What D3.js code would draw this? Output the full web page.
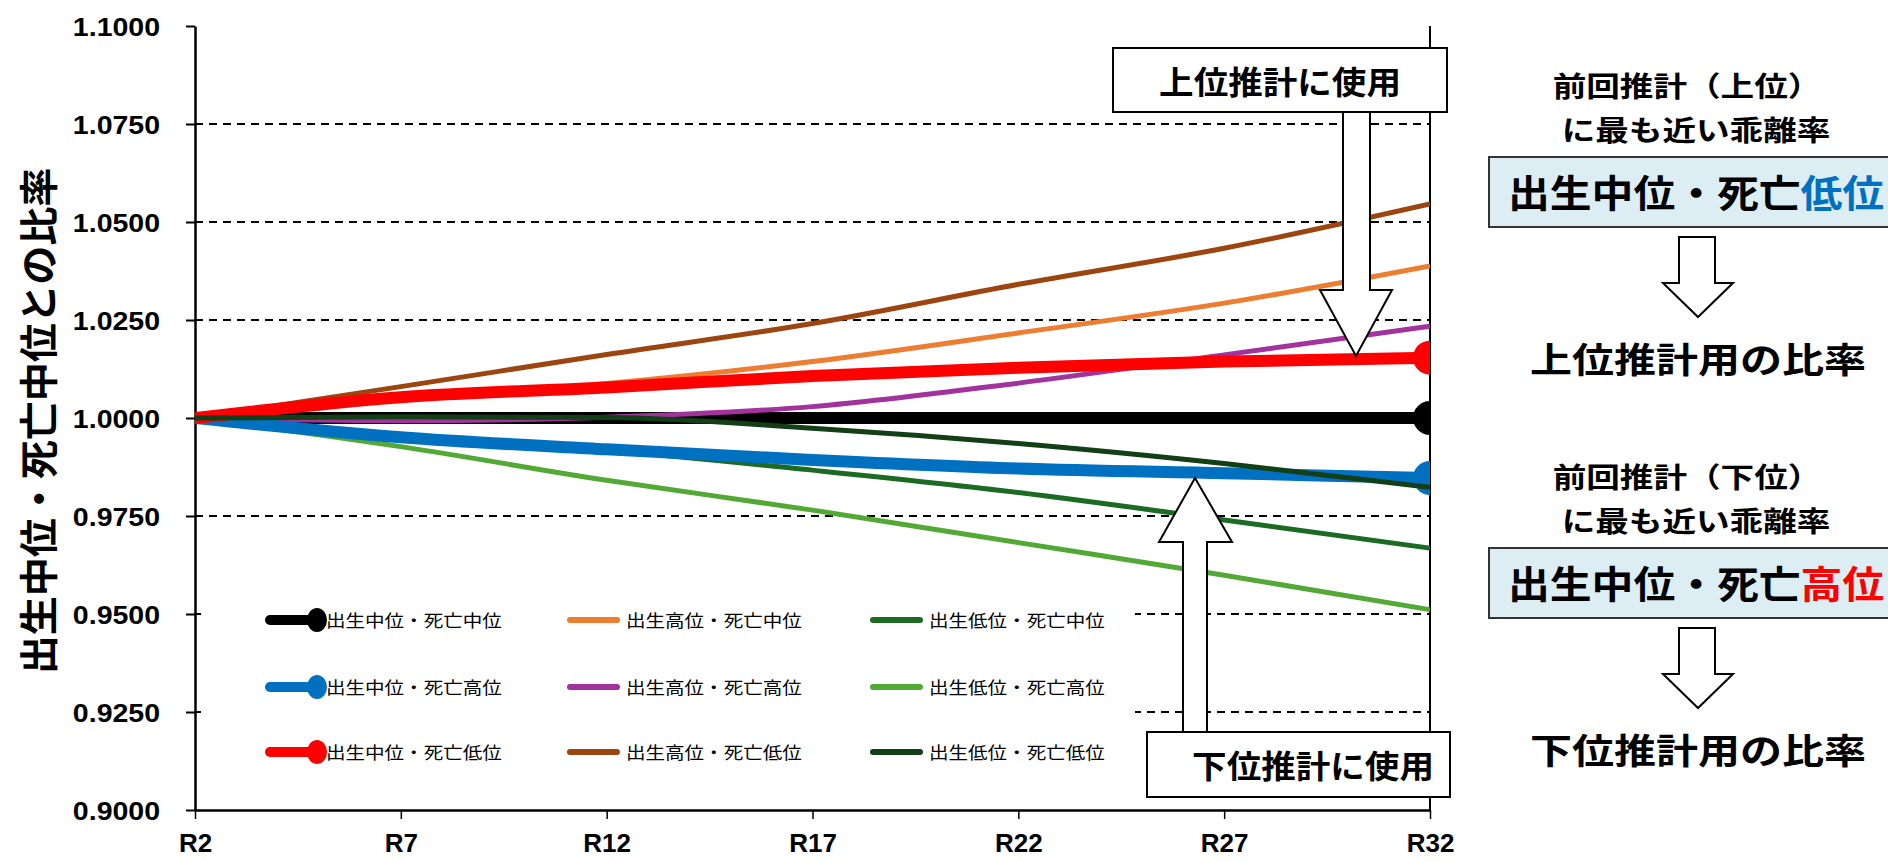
<!DOCTYPE html>
<html>
<head>
<meta charset="utf-8">
<script src="https://cdn.jsdelivr.net/npm/d3@7"></script>
<style>
  body { margin: 0; background: #fff; }
  svg { display: block; }
</style>
</head>
<body>
<div id="chart"></div>
<script>
// --- data ---
const years = [2, 7, 12, 17, 22, 27, 32];
const yTicks = [0.9, 0.925, 0.95, 0.975, 1.0, 1.025, 1.05, 1.075, 1.1];

const seriesNames = [
  "出生中位・死亡中位", "出生中位・死亡高位", "出生中位・死亡低位",
  "出生高位・死亡中位", "出生高位・死亡高位", "出生高位・死亡低位",
  "出生低位・死亡中位", "出生低位・死亡高位", "出生低位・死亡低位"
];
const midMid   = [1.0000, 1.0000, 1.0000, 1.0000, 1.0000, 1.0000, 1.0000];
const midHigh  = [1.0000, 0.9951, 0.9920, 0.9893, 0.9871, 0.9859, 0.9847];
const midLow   = [1.0000, 1.0053, 1.0078, 1.0107, 1.0128, 1.0144, 1.0154];
const highMid  = [1.0000, 1.0048, 1.0088, 1.0144, 1.0217, 1.0293, 1.0388];
const highHigh = [1.0000, 0.9993, 1.0002, 1.0029, 1.0089, 1.0161, 1.0234];
const highLow  = [1.0000, 1.0080, 1.0162, 1.0241, 1.0341, 1.0433, 1.0546];
const lowMid   = [1.0000, 0.9953, 0.9918, 0.9867, 0.9810, 0.9740, 0.9668];
const lowHigh  = [1.0000, 0.9927, 0.9841, 0.9765, 0.9682, 0.9599, 0.9511];
const lowLow   = [1.0000, 1.0003, 1.0001, 0.9974, 0.9935, 0.9884, 0.9823];

const seriesValues = [midMid, midHigh, midLow, highMid, highHigh, highLow, lowMid, lowHigh, lowLow];

// styles
const colors = ["#000000", "#0070C0", "#FF0000", "#ED7D31", "#A2329C", "#9C450F", "#1C6B24", "#52AA34", "#123F15"];
const thick = [true, true, true, false, false, false, false, false, false];
const drawOrder = [0, 3, 4, 5, 6, 7, 1, 2, 8];

const W = 1888, H = 861;
const cjk = "'Noto Sans CJK JP', 'Noto Sans', sans-serif";
const latin = "'Liberation Sans', Arial, sans-serif";

const svg = d3.select("#chart").append("svg")
  .attr("width", W)
  .attr("height", H);

svg.append("rect").attr("width", W).attr("height", H).attr("fill", "#fff");

const x = d3.scaleLinear().domain([2, 32]).range([195, 1430]);
const y = d3.scaleLinear().domain([0.9, 1.1]).range([810, 26]);

// text helper: horizontally stretched text like the reference
function label(g, px, py, str, size, sx, opts = {}) {
  const t = g.append("text")
    .attr("transform", `translate(${px},${py}) scale(${sx},1)`)
    .attr("text-anchor", opts.anchor || "middle")
    .attr("dominant-baseline", "central")
    .style("font-family", opts.family || cjk)
    .style("font-weight", opts.weight || 700)
    .style("font-size", size + "px")
    .attr("fill", opts.fill || "#000");
  if (Array.isArray(str)) {
    str.forEach(p => t.append("tspan").attr("fill", p.fill || "#000").text(p.text));
  } else {
    t.text(str);
  }
  return t;
}

// gridlines
svg.append("g")
  .selectAll("line")
  .data(yTicks.filter(v => v > 0.9 && v < 1.1))
  .enter()
  .append("line")
  .attr("x1", x(2)).attr("x2", x(32))
  .attr("y1", d => y(d)).attr("y2", d => y(d))
  .attr("stroke", "#000")
  .attr("stroke-width", 2)
  .attr("stroke-dasharray", "8,6");

// right border
svg.append("line")
  .attr("x1", x(32)).attr("x2", x(32))
  .attr("y1", y(1.1)).attr("y2", y(0.9))
  .attr("stroke", "#000").attr("stroke-width", 2);

// axes
const yAxis = svg.append("g")
  .attr("transform", `translate(${x(2)},0)`)
  .call(d3.axisLeft(y).tickValues(yTicks).tickSize(9).tickSizeOuter(0).tickFormat(d3.format(".4f")));
yAxis.select(".domain").attr("stroke-width", 2.5);
yAxis.selectAll(".tick line").attr("stroke-width", 2);
yAxis.selectAll("text")
  .attr("x", -35 / 1.14)
  .attr("dy", "0.36em")
  .attr("transform", "scale(1.14,1)")
  .style("font-family", latin)
  .style("font-weight", 700)
  .style("font-size", "25px");

const xAxis = svg.append("g")
  .attr("transform", `translate(0,${y(0.9)})`)
  .call(d3.axisBottom(x).tickValues(years).tickSize(9).tickSizeOuter(0).tickFormat(d => "R" + d));
xAxis.select(".domain").attr("stroke-width", 2.5);
xAxis.selectAll(".tick line").attr("stroke-width", 1.5);
xAxis.selectAll("text")
  .attr("y", 33)
  .attr("dy", "0.36em")
  .style("font-family", "'Liberation Sans Narrow', 'Liberation Sans', Arial, sans-serif")
  .style("font-stretch", "condensed")
  .style("font-weight", 700)
  .style("font-size", "26px");

// y-axis title
svg.append("text")
  .attr("transform", `translate(36,421) rotate(-90)`)
  .attr("text-anchor", "middle")
  .attr("dominant-baseline", "central")
  .style("font-family", cjk)
  .style("font-weight", 700)
  .style("font-size", "39px")
  .text("出生中位・死亡中位との比率");

// lines
svg.append("clipPath").attr("id", "plotClip")
  .append("rect")
  .attr("x", x(2)).attr("y", 0)
  .attr("width", x(32) - x(2)).attr("height", y(0.9));

const line = d3.line()
  .x((d, i) => x(years[i]))
  .y(d => y(d))
  .curve(d3.curveMonotoneX);

const plot = svg.append("g").attr("clip-path", "url(#plotClip)");

drawOrder.forEach(k => {
  plot.append("path")
    .datum(seriesValues[k])
    .attr("fill", "none")
    .attr("stroke", colors[k])
    .attr("stroke-width", thick[k] ? 12 : 5)
    .attr("stroke-linejoin", "round")
    .attr("d", line);
  if (thick[k]) {
    const vals = seriesValues[k];
    plot.append("circle")
      .attr("cx", x(years[years.length - 1]))
      .attr("cy", y(vals[vals.length - 1]))
      .attr("r", 17)
      .attr("fill", colors[k]);
  }
});

// legend
const legend = svg.append("g");
legend.append("rect")
  .attr("x", 201).attr("y", 578)
  .attr("width", 934).attr("height", 210)
  .attr("fill", "#fff");
const legCols = [270, 570, 873];
const legRows = [620, 687, 752];
seriesNames.forEach((name, k) => {
  const cx = legCols[Math.floor(k / 3)];
  const cy = legRows[k % 3];
  legend.append("line")
    .attr("x1", cx).attr("x2", cx + 47)
    .attr("y1", cy).attr("y2", cy)
    .attr("stroke", colors[k])
    .attr("stroke-width", thick[k] ? 10 : 6)
    .attr("stroke-linecap", "round");
  if (thick[k]) {
    legend.append("ellipse")
      .attr("cx", cx + 47).attr("cy", cy)
      .attr("rx", 10).attr("ry", 12)
      .attr("fill", colors[k]);
  }
  label(legend, cx + 56, cy, name, 17, 1.15, { anchor: "start", weight: 400 });
});

// in-chart annotations
const ann = svg.append("g");
function hollowArrow(g, pts) {
  g.append("polygon")
    .attr("points", pts.map(p => p.join(",")).join(" "))
    .attr("fill", "#fff")
    .attr("stroke", "#000")
    .attr("stroke-width", 2);
}
hollowArrow(ann, [[1343, 110], [1370, 110], [1370, 290], [1392, 290], [1356, 356], [1320, 290], [1343, 290]]);
ann.append("rect").attr("x", 1113).attr("y", 48).attr("width", 334).attr("height", 64)
  .attr("fill", "#fff").attr("stroke", "#000").attr("stroke-width", 2);
label(ann, 1280, 80, "上位推計に使用", 32, 1.08);

hollowArrow(ann, [[1183, 734], [1207, 734], [1207, 542], [1232, 542], [1195, 478], [1159, 542], [1183, 542]]);
ann.append("rect").attr("x", 1147).attr("y", 732).attr("width", 303).attr("height", 65)
  .attr("fill", "#fff").attr("stroke", "#000").attr("stroke-width", 2);
label(ann, 1313, 764, "下位推計に使用", 32, 1.08);

// right-hand explanation panel
const panel = svg.append("g");
function panelBlock(top, which, pick, pickColor, result) {
  label(panel, 1687, top, `前回推計（${which}）`, 28, 1.2);
  label(panel, 1696, top + 44, "に最も近い乖離率", 28, 1.2);
  panel.append("rect")
    .attr("x", 1489).attr("y", top + 72)
    .attr("width", 420).attr("height", 70)
    .attr("fill", "#DDEDF4")
    .attr("stroke", "#333").attr("stroke-width", 2);
  label(panel, 1508, top + 106, [{ text: "出生中位・死亡" }, { text: pick, fill: pickColor }], 38, 1.1, { anchor: "start" });
  hollowArrow(panel, [[1679, top + 152], [1715, top + 152], [1715, top + 198], [1733, top + 198], [1698, top + 232], [1663, top + 198], [1679, top + 198]]);
  label(panel, 1698, top + 273, result, 35, 1.2);
}
panelBlock(85, "上位", "低位", "#0070C0", "上位推計用の比率");
panelBlock(476, "下位", "高位", "#FF0000", "下位推計用の比率");
</script>
</body>
</html>
